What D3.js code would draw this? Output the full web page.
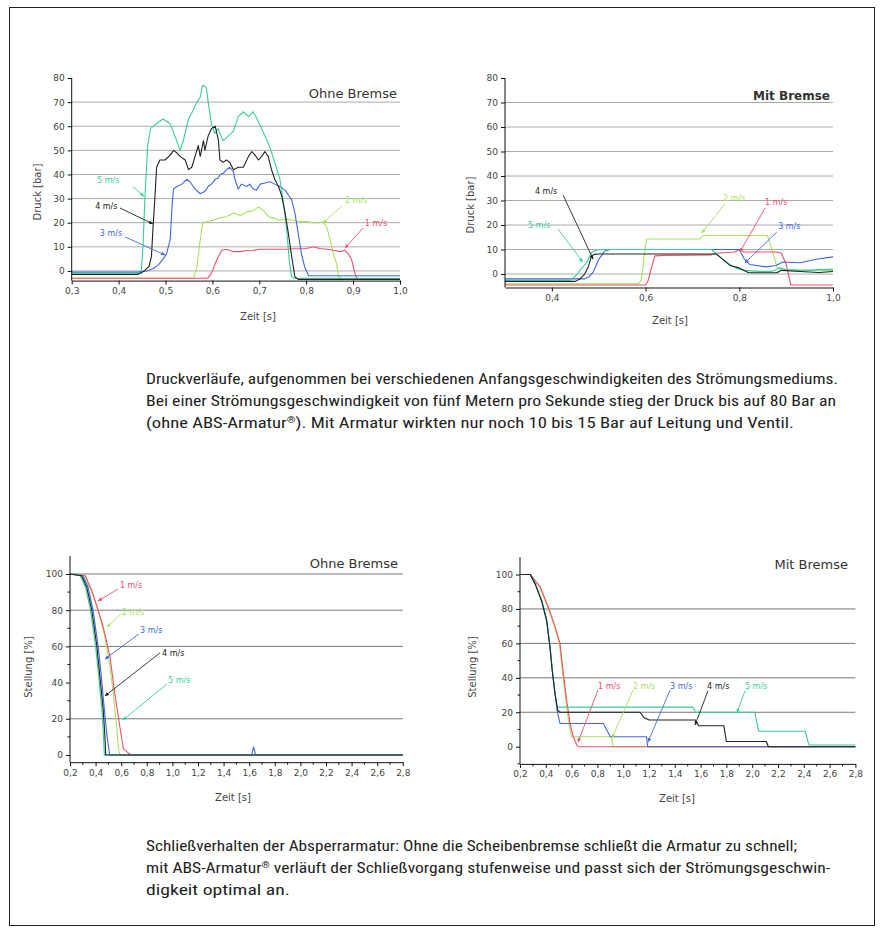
<!DOCTYPE html>
<html><head><meta charset="utf-8">
<script src="https://cdn.jsdelivr.net/npm/d3@7"></script>
<style>body{margin:0;background:#fff}svg{display:block}</style>
</head><body>
<svg id="c" width="884" height="933"></svg>
<script>
// ---------------- DATA ----------------
const speeds = ["1 m/s","2 m/s","3 m/s","4 m/s","5 m/s"];
const titles = ["Ohne Bremse","Mit Bremse","Ohne Bremse","Mit Bremse"];
const druckTicksY = [0,10,20,30,40,50,60,70,80];
const druckOhneTicksX = [0.3,0.4,0.5,0.6,0.7,0.8,0.9,1.0];
const druckMitTicksX = [0.4,0.6,0.8,1.0];
const stellTicksY = [0,20,40,60,80,100];
const stellTicksX = [0.2,0.4,0.6,0.8,1.0,1.2,1.4,1.6,1.8,2.0,2.2,2.4,2.6,2.8];

// Druck, ohne Bremse  [Zeit s, Druck bar]
const druckOhne1 = [[0.3,-3],[0.59,-3],[0.598,-1],[0.609,4.5],[0.62,8.6],[0.63,9],[0.645,8],[0.659,8],[0.673,8.5],[0.687,8.6],[0.702,9],[0.716,9],[0.73,9],[0.744,9],[0.758,9],[0.773,9.2],[0.787,9.2],[0.801,9.3],[0.815,10],[0.829,9.3],[0.844,9],[0.858,8.6],[0.872,8],[0.882,8.6],[0.89,7],[0.897,4.5],[0.904,-1],[0.908,-3],[0.915,-3.5],[1.0,-3.5]];
const druckOhne2 = [[0.3,-3],[0.56,-3],[0.567,1.5],[0.574,13],[0.58,20],[0.59,20.5],[0.602,21],[0.616,22],[0.63,22.5],[0.645,24],[0.659,23],[0.673,24.5],[0.687,25],[0.698,26.5],[0.709,25],[0.72,22.5],[0.73,22],[0.744,21],[0.758,21.5],[0.773,21],[0.787,20.5],[0.801,20.5],[0.815,20],[0.829,20],[0.836,20.5],[0.844,18],[0.851,13],[0.858,7],[0.865,3],[0.869,-2.5],[0.875,-3.5],[1.0,-3.5]];
const druckOhne3 = [[0.3,-0.5],[0.44,-0.5],[0.46,0],[0.474,1],[0.485,2.5],[0.495,5],[0.502,7],[0.51,13],[0.514,27],[0.517,34],[0.524,35],[0.535,36],[0.545,38],[0.552,37],[0.563,34],[0.574,32],[0.584,33],[0.591,35],[0.598,36],[0.606,38],[0.613,38.5],[0.616,40],[0.623,40.5],[0.63,42],[0.637,43],[0.645,41],[0.648,38],[0.655,34],[0.662,36],[0.673,35],[0.68,36],[0.687,34],[0.694,33.5],[0.702,36],[0.712,36.5],[0.723,37],[0.733,36],[0.744,35],[0.755,33.5],[0.762,31.5],[0.769,29.5],[0.776,24],[0.783,15.5],[0.79,7],[0.797,1.5],[0.805,-2],[1.0,-2]];
const druckOhne4 = [[0.3,-1.5],[0.44,-1.5],[0.455,0],[0.465,2],[0.47,6],[0.474,20],[0.477,29],[0.481,43],[0.488,46],[0.499,46],[0.51,48],[0.517,50],[0.524,49],[0.531,47.5],[0.542,46],[0.549,42],[0.556,43],[0.563,47.5],[0.57,52],[0.574,47.5],[0.581,54],[0.584,50],[0.591,56],[0.598,59],[0.606,60],[0.613,54],[0.616,46],[0.623,45],[0.63,46],[0.637,45],[0.645,42],[0.655,43],[0.666,43],[0.677,47.5],[0.684,49.5],[0.691,48],[0.698,46],[0.705,47.5],[0.712,49.5],[0.719,47.5],[0.726,42],[0.733,38],[0.741,35],[0.748,31],[0.755,24],[0.762,15.5],[0.769,6],[0.776,-2.5],[0.783,-3.5],[1.0,-3.5]];
const druckOhne5 = [[0.3,-1],[0.448,-1],[0.452,10],[0.456,30],[0.462,52],[0.468,59],[0.48,61],[0.495,63],[0.51,61],[0.52,56],[0.531,50],[0.538,54],[0.549,63],[0.56,67],[0.567,70],[0.574,72],[0.579,77],[0.587,76],[0.591,70],[0.598,61],[0.605,57],[0.612,59],[0.623,54],[0.634,56],[0.645,58],[0.655,64],[0.666,66],[0.677,64],[0.687,66],[0.698,62],[0.705,59],[0.712,56],[0.723,51],[0.733,45],[0.744,38],[0.751,29],[0.758,18],[0.764,4],[0.769,-2.5],[0.775,-3],[1.0,-3]];

// Druck, mit Bremse
const druckMit1 = [[0.3,-4.5],[0.6,-4.5],[0.606,-2.4],[0.613,3],[0.62,7.4],[0.64,7.6],[0.74,7.8],[0.75,8.5],[0.79,9],[0.8,10],[0.81,9],[0.88,9],[0.89,8.5],[0.9,4],[0.91,-4.5],[1.0,-4.5]];
const druckMit2 = [[0.3,-4],[0.585,-4],[0.591,-2.4],[0.596,6],[0.602,14.3],[0.716,14.3],[0.723,15.7],[0.86,15.7],[0.87,10],[0.88,3],[0.89,1.5],[1.0,1.5]];
const druckMit3 = [[0.3,-2],[0.47,-2],[0.48,-1],[0.489,1],[0.5,6],[0.513,9.4],[0.525,10],[0.8,10],[0.811,6],[0.822,3.9],[0.857,2.9],[0.878,3.5],[0.893,4.9],[0.93,4.6],[0.964,6],[1.0,7]];
const druckMit4 = [[0.3,-3],[0.45,-3],[0.46,-2],[0.47,0],[0.478,3],[0.484,7],[0.49,8],[0.5,8.2],[0.75,8.2],[0.765,6],[0.78,3.5],[0.8,2.5],[0.82,0.5],[0.88,0.5],[0.89,1.5],[0.93,1],[0.97,0.6],[1.0,1]];
const druckMit5 = [[0.3,-2.5],[0.44,-2.5],[0.452,-0.5],[0.462,2],[0.474,4.6],[0.485,8.8],[0.496,9.9],[0.52,10],[0.74,10],[0.75,8.5],[0.765,6],[0.78,3.9],[0.794,2.3],[0.81,1.5],[0.843,1.1],[0.87,1.1],[0.885,2.5],[0.9,1.8],[0.94,1.5],[1.0,2]];

// Stellung, ohne Bremse  [Zeit s, Stellung %]
const stellOhne1 = [[0.2,100],[0.32,99],[0.38,89],[0.46,70.7],[0.513,54],[0.55,34],[0.59,15.3],[0.617,3.5],[0.656,1],[0.68,0],[2.8,0]];
const stellOhne2 = [[0.2,100],[0.31,99],[0.36,92],[0.42,80],[0.47,66],[0.51,50],[0.54,33],[0.565,15],[0.58,3],[0.59,0],[2.8,0]];
const stellOhne3 = [[0.2,100],[0.3,99],[0.34,93],[0.38,80],[0.42,60],[0.445,43],[0.47,24],[0.49,10],[0.51,0],[1.62,0],[1.635,4.5],[1.65,0],[2.8,0]];
const stellOhne4 = [[0.2,100],[0.29,99],[0.33,93],[0.37,80],[0.41,60],[0.434,43],[0.46,24.5],[0.473,10],[0.479,0],[2.8,0]];
const stellOhne5 = [[0.2,100],[0.28,99],[0.32,93],[0.36,80],[0.4,60],[0.425,43],[0.45,24],[0.462,10],[0.468,0],[2.8,0]];

// Stellung, mit Bremse
const stellMit1 = [[0.2,100],[0.28,100],[0.355,93],[0.42,81],[0.471,70],[0.51,60],[0.536,42.6],[0.562,27],[0.588,13.5],[0.613,5.8],[0.64,1],[0.652,0],[2.8,0]];
const stellMit2 = [[0.2,100],[0.28,100],[0.35,93],[0.415,81],[0.465,70],[0.505,60],[0.53,43],[0.555,27],[0.58,13],[0.6,5.8],[0.91,5.8],[0.92,0],[2.8,0]];
const stellMit3 = [[0.2,100],[0.28,100],[0.316,95],[0.368,85],[0.407,73.5],[0.433,58],[0.45,44.5],[0.471,31],[0.49,20],[0.51,13.5],[0.846,13.5],[0.9,5.8],[1.18,5.8],[1.19,0],[2.8,0]];
const stellMit4 = [[0.2,100],[0.28,100],[0.32,94],[0.37,84],[0.407,73],[0.433,57],[0.45,44],[0.471,31],[0.492,21],[0.51,20],[1.13,20],[1.16,17],[1.2,15.5],[1.56,15.5],[1.585,12.2],[1.78,12.2],[1.8,3],[2.11,3],[2.125,0],[2.8,0]];
const stellMit5 = [[0.2,100],[0.278,100],[0.316,95],[0.368,85],[0.407,73.5],[0.433,58],[0.45,44.5],[0.471,31],[0.49,23],[0.52,23],[1.54,23],[1.56,20],[2.02,20],[2.05,9],[2.41,9],[2.44,1],[2.8,1]];

// Annotation anchors in data units: [textX, textY, tailX, tailY, headX, headY]
const noteDruckOhne = [[0.925,18.7,0.921,17.8,0.883,9.5],[0.883,28.2,0.876,26.9,0.836,19.9],[0.36,14.5,0.414,14.1,0.499,6.6],[0.35,25.7,0.403,26.1,0.473,19.5],[0.354,36.5,0.43,35,0.454,31]];
const noteDruckMit = [[0.855,28.2,0.855,26.9,0.8015,9],[0.765,29.8,0.769,28.6,0.72,16.7],[0.883,18.4,0.88,17.1,0.812,4.5],[0.364,32.7,0.424,32.2,0.488,6.1],[0.349,18.8,0.413,18.4,0.466,4.9]];
const noteStellOhne = [[0.59,92.3,0.575,91.7,0.419,85.1],[0.606,77.3,0.598,77.9,0.489,70.7],[0.747,67.4,0.739,66.9,0.473,53],[0.919,54.7,0.903,56.4,0.473,32.6],[0.966,39.8,0.958,39.2,0.614,19.3]];
const noteStellMit = [[0.805,33.5,0.805,32.9,0.65,2.7],[1.076,33.5,1.076,32.9,0.913,5],[1.363,33.5,1.363,32.9,1.192,2.7],[1.65,33.5,1.657,32.4,1.557,12.6],[1.944,33.5,1.944,32.4,1.882,19.6]];

const caption1 = [
 "Druckverläufe, aufgenommen bei verschiedenen Anfangsgeschwindigkeiten des Strömungsmediums.",
 "Bei einer Strömungsgeschwindigkeit von fünf Metern pro Sekunde stieg der Druck bis auf 80 Bar an",
 "(ohne ABS-Armatur®). Mit Armatur wirkten nur noch 10 bis 15 Bar auf Leitung und Ventil."];
const caption2 = [
 "Schließverhalten der Absperrarmatur: Ohne die Scheibenbremse schließt die Armatur zu schnell;",
 "mit ABS-Armatur® verläuft der Schließvorgang stufenweise und passt sich der Strömungsgeschwin-",
 "digkeit optimal an."];

// ---------------- DRAWING ----------------
const colors = ["#ef4f6c","#a6e25e","#4466e2","#222222","#35cf97"];
const drawOrder = [1,0,2,4,3];
const svg = d3.select("#c");
const CF = "DejaVu Sans, Verdana, sans-serif";

svg.append("rect").attr("x",9.5).attr("y",7.5).attr("width",865).attr("height",918)
  .attr("fill","none").attr("stroke","#222").attr("stroke-width",1);

const defs = svg.append("defs");
colors.forEach((c,i)=>{
  defs.append("marker").attr("id","ah"+i).attr("viewBox","0 0 10 10").attr("refX",9).attr("refY",5)
    .attr("markerWidth",5).attr("markerHeight",5).attr("orient","auto")
    .append("path").attr("d","M0,1L10,5L0,9z").attr("fill",c);
});

const fmtX = d => d3.format(".1f")(d).replace(".", ",");

function drawChart(cfg){
  const g = svg.append("g");
  const x = d3.scaleLinear().domain(cfg.xDomain).range(cfg.xRange);
  const y = d3.scaleLinear().domain(cfg.yDomain).range(cfg.yRange);
  g.selectAll("line.grid").data(cfg.grid).join("line").attr("class","grid")
    .attr("x1",cfg.xRange[0]).attr("x2",cfg.xRange[1])
    .attr("y1",d=>y(d)).attr("y2",d=>y(d))
    .attr("stroke",cfg.gridColor).attr("stroke-width",1);
  const line = d3.line().x(d=>x(d[0])).y(d=>y(d[1]));
  drawOrder.forEach(i=>{
    g.append("path").attr("d",line(cfg.series[i])).attr("fill","none")
      .attr("stroke",colors[i]).attr("stroke-width",1.1).attr("stroke-linejoin","round");
  });
  const xa = g.append("g").attr("transform",`translate(0,${cfg.yRange[0]})`)
    .call(d3.axisBottom(x).tickValues(cfg.xTicks).tickFormat(fmtX).tickSize(4).tickSizeOuter(0).tickPadding(3));
  const ya = g.append("g").attr("transform",`translate(${cfg.xRange[0]},0)`)
    .call(d3.axisLeft(y).tickValues(cfg.yTicks).tickFormat(d3.format("d")).tickSize(4).tickSizeOuter(0).tickPadding(3));
  [xa,ya].forEach(a=>{
    a.select(".domain").attr("stroke","#111");
    a.selectAll(".tick line").attr("stroke","#111");
    a.selectAll("text").attr("font-family",CF).attr("font-size",cfg.tickFont).attr("fill","#444");
  });
  ya.select(".domain").attr("d",`M0,${cfg.yRange[0]}V${y(cfg.yTop)}`);
  if(cfg.minorX){
    g.selectAll("line.mx").data(cfg.minorX).join("line").attr("class","mx")
      .attr("x1",d=>x(d)).attr("x2",d=>x(d)).attr("y1",cfg.yRange[0]).attr("y2",cfg.yRange[0]+2.5).attr("stroke","#111");
  }
  if(cfg.minorY){
    g.selectAll("line.my").data(cfg.minorY).join("line").attr("class","my")
      .attr("x1",cfg.xRange[0]-2.5).attr("x2",cfg.xRange[0]).attr("y1",d=>y(d)).attr("y2",d=>y(d)).attr("stroke","#111");
  }
  g.append("text").attr("x",cfg.titlePos[0]).attr("y",cfg.titlePos[1]).attr("text-anchor","end")
    .attr("font-family",CF).attr("font-size",cfg.titleSize).attr("font-weight",cfg.titleWeight).attr("fill","#333").text(cfg.title);
  g.append("text").attr("transform",`translate(${cfg.yLabelPos[0]},${cfg.yLabelPos[1]}) rotate(-90)`)
    .attr("text-anchor","middle").attr("font-family",CF).attr("font-size",10).attr("fill","#444").text(cfg.yLabel);
  g.append("text").attr("x",cfg.xLabelPos[0]).attr("y",cfg.xLabelPos[1]).attr("text-anchor","middle")
    .attr("font-family",CF).attr("font-size",10).attr("fill","#444").text("Zeit [s]");
  cfg.notes.forEach((n,i)=>{
    g.append("line").attr("x1",x(n[2])).attr("y1",y(n[3])).attr("x2",x(n[4])).attr("y2",y(n[5]))
      .attr("stroke",colors[i]).attr("stroke-width",0.9).attr("marker-end",`url(#ah${i})`);
    g.append("text").attr("x",x(n[0])).attr("y",y(n[1])).attr("font-family",CF).attr("font-size",8)
      .attr("fill",colors[i]).text(speeds[i]);
  });
}

drawChart({xDomain:[0.3,1.0], xRange:[71.7,400], yDomain:[-4,80], yRange:[280.6,78], yTop:80,
  grid:[0,10,20,30,40,50,60,70], gridColor:"#aaa", xTicks:druckOhneTicksX, yTicks:druckTicksY, tickFont:9,
  series:[druckOhne1,druckOhne2,druckOhne3,druckOhne4,druckOhne5], notes:noteDruckOhne,
  title:titles[0], titlePos:[397,98], titleSize:13, titleWeight:400,
  yLabel:"Druck [bar]", yLabelPos:[41,192], xLabelPos:[258,320]});

drawChart({xDomain:[0.3,1.0], xRange:[505,833], yDomain:[-5.5,80], yRange:[287.5,78], yTop:80,
  grid:[0,10,20,30,40,50,60,70], gridColor:"#aaa", xTicks:druckMitTicksX, yTicks:druckTicksY, tickFont:9,
  series:[druckMit1,druckMit2,druckMit3,druckMit4,druckMit5], notes:noteDruckMit,
  title:titles[1], titlePos:[830,100], titleSize:12, titleWeight:700,
  yLabel:"Druck [bar]", yLabelPos:[474,205], xLabelPos:[670,324]});

drawChart({xDomain:[0.2,2.8], xRange:[70,402.8], yDomain:[-4,110], yRange:[762.2,555.9], yTop:110,
  grid:[20,60,80,100], gridColor:"#777", xTicks:stellTicksX, yTicks:stellTicksY, tickFont:9,
  minorX:d3.range(0.3,2.8,0.2), minorY:[10,30,50,70,90],
  series:[stellOhne1,stellOhne2,stellOhne3,stellOhne4,stellOhne5], notes:noteStellOhne,
  title:titles[2], titlePos:[398,568], titleSize:13, titleWeight:400,
  yLabel:"Stellung [%]", yLabelPos:[32,667], xLabelPos:[233,801]});

drawChart({xDomain:[0.2,2.8], xRange:[520,855.4], yDomain:[-10,110], yRange:[763.9,557.3], yTop:110,
  grid:[20,40,60,80], gridColor:"#777", xTicks:stellTicksX, yTicks:stellTicksY, tickFont:9,
  minorX:d3.range(0.3,2.8,0.2), minorY:[-10,10,30,50,70,90],
  series:[stellMit1,stellMit2,stellMit3,stellMit4,stellMit5], notes:noteStellMit,
  title:titles[3], titlePos:[848,569], titleSize:13, titleWeight:400,
  yLabel:"Stellung [%]", yLabelPos:[476,667], xLabelPos:[677,802]});

// captions (® set as small superscript)
const capFont = "'Liberation Sans Narrow', 'Roboto Condensed', Roboto, sans-serif";
const cap1W = [692,690,648], cap2W = [651,684,144];
function caption(lines, widths, y0){
  lines.forEach((t,i)=>{
    const el = svg.append("text").attr("x",146).attr("y",y0+22*i)
      .attr("font-family",capFont).attr("font-size",15).attr("fill","#222")
      .attr("textLength",widths[i]).attr("lengthAdjust","spacingAndGlyphs");
    const parts = t.split("®");
    parts.forEach((p,k)=>{
      el.append("tspan").attr("dy", k>0 ? 5 : null).text(p);
      if(k<parts.length-1) el.append("tspan").attr("font-size",9).attr("dy",-5).text("®");
    });
  });
}
caption(caption1, cap1W, 384);
caption(caption2, cap2W, 851);
</script>
</body></html>
